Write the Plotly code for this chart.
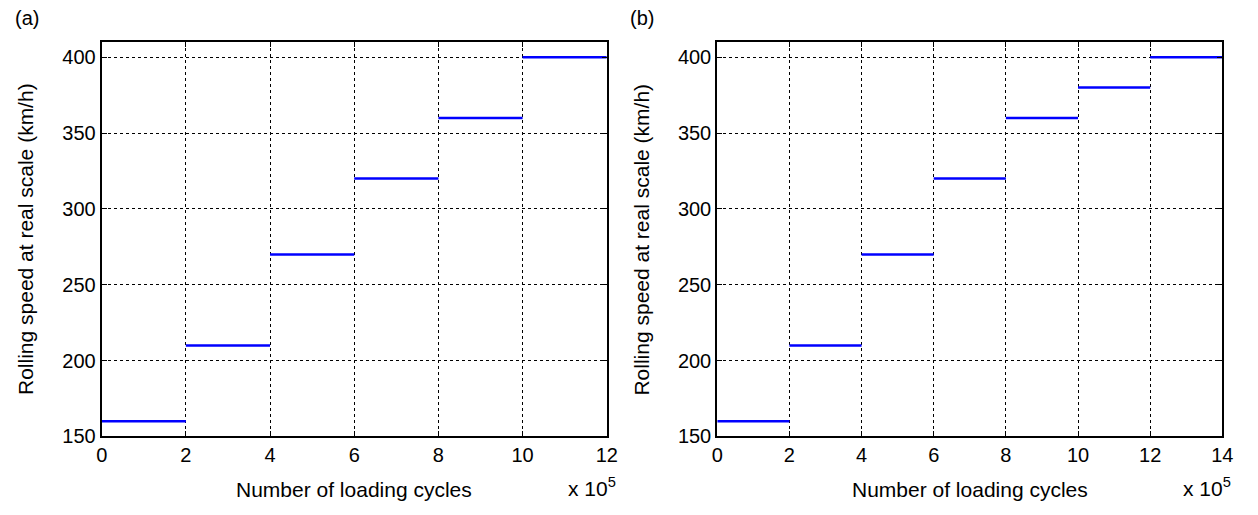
import plotly.graph_objects as go

# Data: x in units of 10^5 loading cycles
a_start = [0, 2, 4, 6, 8, 10]
a_end = [2, 4, 6, 8, 10, 12]
a_speed = [160, 210, 270, 320, 360, 400]

b_start = [0, 2, 4, 6, 8, 10, 12]
b_end = [2, 4, 6, 8, 10, 12, 14]
b_speed = [160, 210, 270, 320, 360, 380, 400]

x_ticks_a = [0, 2, 4, 6, 8, 10, 12]
x_ticks_b = [0, 2, 4, 6, 8, 10, 12, 14]
y_ticks = [150, 200, 250, 300, 350, 400]

FONT = "Liberation Sans, Arial, sans-serif"
W, H = 1258, 515


def segs(starts, ends, vals):
    xs, ys = [], []
    for s, e, v in zip(starts, ends, vals):
        xs += [s, e, None]
        ys += [v, v, None]
    return xs, ys


fig = go.Figure()
xa, ya = segs(a_start, a_end, a_speed)
xb, yb = segs(b_start, b_end, b_speed)
fig.add_trace(go.Scatter(x=xa, y=ya, mode="lines", line=dict(color="#0000ff", width=2.5),
                         xaxis="x", yaxis="y", showlegend=False, connectgaps=False))
fig.add_trace(go.Scatter(x=xb, y=yb, mode="lines", line=dict(color="#0000ff", width=2.5),
                         xaxis="x2", yaxis="y2", showlegend=False, connectgaps=False))

left_dom = [97 / W, 609 / W]
right_dom = [721 / W, 1233 / W]
y_dom = [1 - 446 / H, 1 - 43 / H]

axis_common = dict(
    showline=True, linecolor="black", linewidth=2, mirror="ticks",
    ticks="inside", ticklen=5, tickwidth=1, tickcolor="black",
    showgrid=True, gridcolor="black", griddash="dot", gridwidth=1,
    zeroline=False, tickfont=dict(family=FONT, size=20, color="black"),
)

fig.update_layout(
    width=W, height=H,
    margin=dict(l=0, r=0, t=0, b=0),
    paper_bgcolor="white", plot_bgcolor="white",
    xaxis=dict(domain=left_dom, range=[0, 12], tickvals=x_ticks_a, anchor="y", **axis_common),
    yaxis=dict(domain=y_dom, range=[150, 410], tickvals=y_ticks, anchor="x", **axis_common),
    xaxis2=dict(domain=right_dom, range=[0, 14], tickvals=x_ticks_b, anchor="y2", **axis_common),
    yaxis2=dict(domain=y_dom, range=[150, 410], tickvals=y_ticks, anchor="x2", **axis_common),
)

tfont = dict(family=FONT, size=21, color="black")
ann = []
for dom, lab in [(left_dom, "(a)"), (right_dom, "(b)")]:
    cx = (dom[0] + dom[1]) / 2
    ann.append(dict(text="Number of loading cycles", x=cx, y=1 - 500 / H, xref="paper", yref="paper",
                    xanchor="center", yanchor="middle", showarrow=False, font=tfont))
    ann.append(dict(text="x 10<sup>5</sup>", x=dom[1] + 11 / W, y=1 - 498 / H, xref="paper", yref="paper",
                    xanchor="right", yanchor="middle", showarrow=False, font=tfont))
    ann.append(dict(text="Rolling speed at real scale (km/h)", x=dom[0] - 77 / W, y=(y_dom[0] + y_dom[1]) / 2,
                    xref="paper", yref="paper", xanchor="center", yanchor="middle", textangle=-90,
                    showarrow=False, font=tfont))
    ann.append(dict(text=lab, x=dom[0] - 90 / W, y=1 - 18 / H, xref="paper", yref="paper",
                    xanchor="left", yanchor="middle", showarrow=False, font=dict(family=FONT, size=20, color="black")))
fig.update_layout(annotations=ann)

post = ("document.body.style.margin='0';document.body.style.padding='0';"
        "document.body.style.overflow='hidden';document.documentElement.style.overflow='hidden';")
fig.write_html("out.html", post_script=post, config=dict(displayModeBar=False))
